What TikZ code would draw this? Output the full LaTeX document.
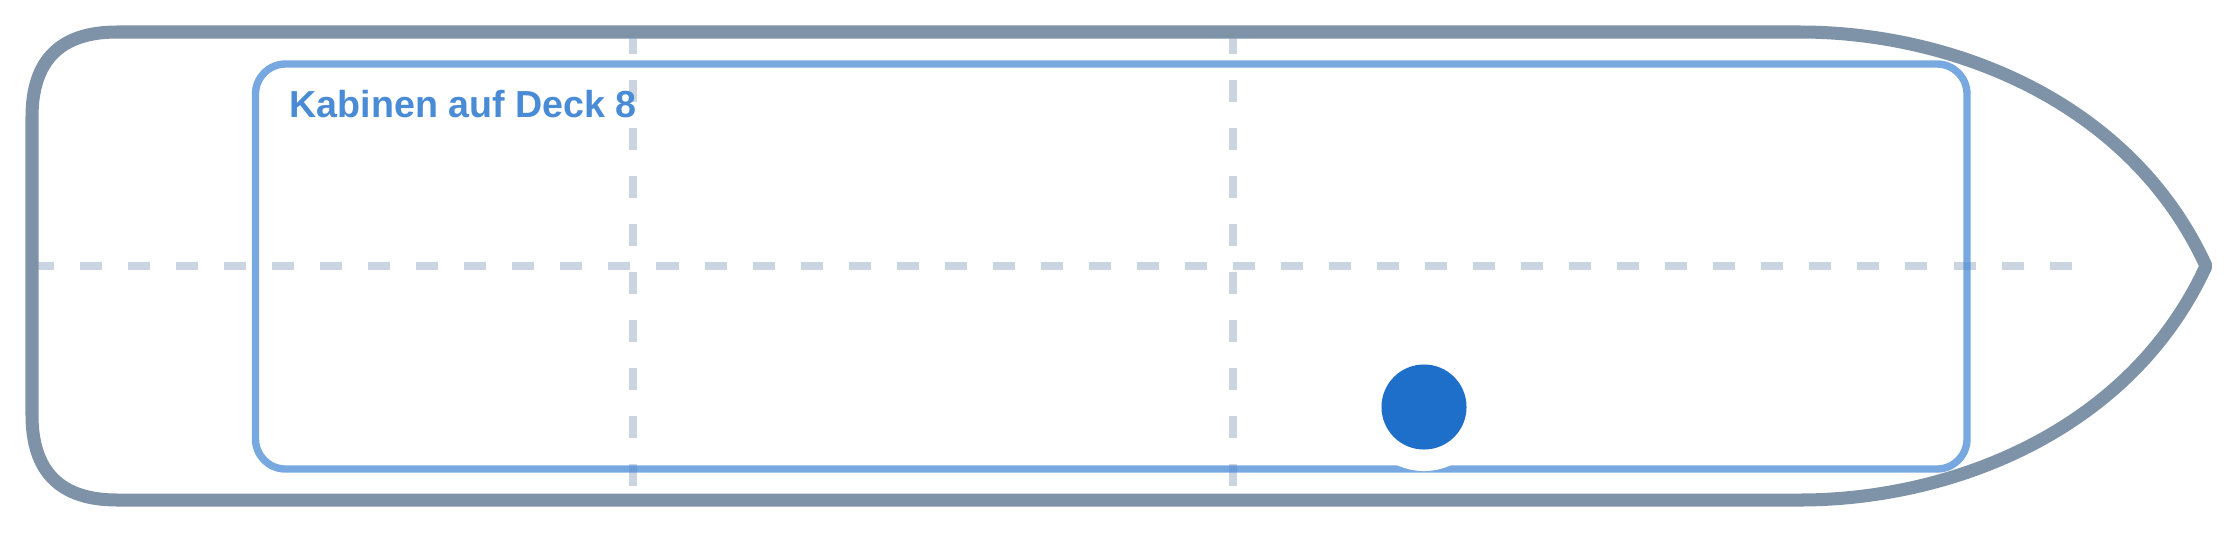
\documentclass[tikz,border=0pt]{standalone}
\usepackage{fontspec}
\setmainfont{Liberation Sans}
\definecolor{hullgray}{HTML}{7F93A8}
\definecolor{gridgray}{HTML}{CBD5E1}
\definecolor{deckblue}{HTML}{4A8BD6}
\definecolor{cabinblue}{HTML}{1D6FCA}

\begin{document}
\begin{tikzpicture}[x=0.01cm,y=-0.01cm]
\tikzstyle{grid}=[draw=gridgray,line width=2.3pt,dash pattern=on 6.26pt off 7.4pt]
\tikzstyle{hull}=[draw=hullgray,line width=3.7pt,line join=bevel]
\tikzstyle{deck}=[draw=deckblue,draw opacity=0.75,line width=2.1pt,rounded corners=0.3cm]
\tikzstyle{halo}=[circle,fill=white,minimum size=1.28cm,inner sep=0pt]
\tikzstyle{cabin}=[circle,fill=cabinblue,minimum size=0.85cm,inner sep=0pt]
\useasboundingbox (0,0) rectangle (2240,533);
% axes of the ship
\coordinate (aft) at (32,266);
\coordinate (fore) at (2072,266);
\coordinate (a1) at (633,32);
\coordinate (a2) at (633,500);
\coordinate (b1) at (1233,32);
\coordinate (b2) at (1233,500);
\draw[grid] (aft) -- (fore);
\draw[grid] (a1) -- (a2);
\draw[grid] (b1) -- (b2);
% hull
\coordinate (bow) at (2206,266);
\draw[hull] (1800,32) .. controls (1950,32) and (2130,100) .. (bow)
  .. controls (2130,432) and (1950,500) .. (1800,500)
  -- (117,500) .. controls (60.3,500) and (32,471.7) .. (32,415)
  -- (32,117) .. controls (32,60.3) and (60.3,32) .. (117,32) -- cycle;
% deck
\draw[deck] (255.5,64) rectangle (1967,469);
\node[anchor=base west,inner sep=0pt,text=deckblue,font=\bfseries\fontsize{10.7}{12}\selectfont] (title) at (289,117) {Kabinen auf Deck 8};
\node[halo] (h) at (1424,407) {};
\node[cabin] (c) at (1424,407) {};
\end{tikzpicture}
\end{document}
